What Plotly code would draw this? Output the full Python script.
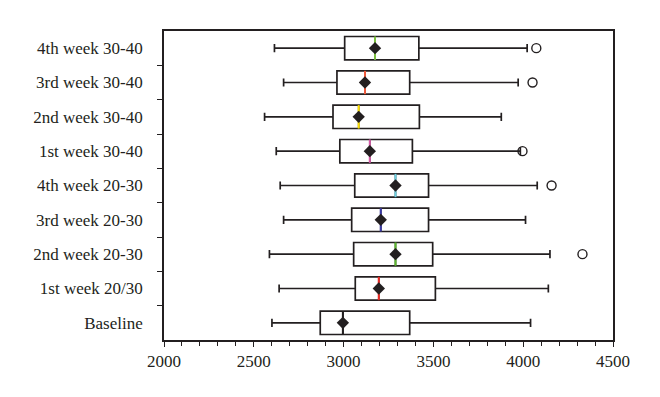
import plotly.graph_objects as go

categories = ["Baseline", "1st week 20/30", "2nd week 20-30", "3rd week 20-30", "4th week 20-30",
              "1st week 30-40", "2nd week 30-40", "3rd week 30-40", "4th week 30-40"]
lower_whisker = [2601, 2641, 2587, 2666, 2647, 2625, 2560, 2666, 2615]
q1_vals = [2870, 3065, 3056, 3045, 3062, 2979, 2941, 2963, 3006]
median_vals = [2996, 3196, 3289, 3207, 3289, 3146, 3084, 3119, 3175]
q3_vals = [3368, 3511, 3496, 3473, 3473, 3383, 3422, 3368, 3419]
upper_whisker = [4041, 4140, 4149, 4013, 4078, 3984, 3878, 3972, 4022]
mean_vals = [2996, 3196, 3289, 3207, 3289, 3146, 3084, 3119, 3175]
outlier_cat = ["2nd week 20-30", "4th week 20-30", "1st week 30-40", "3rd week 30-40", "4th week 30-40"]
outlier_vals = [4330, 4158, 3996, 4052, 4073]
median_colors = ["#231f20", "#ee2a24", "#5cb82e", "#3b3aa8", "#6ccfe0",
                 "#d65aa8", "#ffe100", "#f05a3c", "#7dc242"]
x_ticks = [2000, 2500, 3000, 3500, 4000, 4500]

pos = list(range(len(categories)))
cat_pos = {c: i for i, c in enumerate(categories)}
BOX_W = 0.68
INK = "#231f20"
FONT = "Liberation Serif"

fig = go.Figure()
fig.add_trace(go.Box(
    y=pos, q1=q1_vals, median=median_vals, q3=q3_vals,
    lowerfence=lower_whisker, upperfence=upper_whisker,
    orientation="h", width=BOX_W, whiskerwidth=0.35,
    fillcolor="rgba(255,255,255,0)", line=dict(color=INK, width=1.7),
    boxpoints=False, hoverinfo="skip", showlegend=False,
))

for i, (m, col) in enumerate(zip(median_vals, median_colors)):
    fig.add_trace(go.Scatter(
        x=[m, m], y=[i - BOX_W / 2, i + BOX_W / 2], mode="lines",
        line=dict(color=col, width=2), showlegend=False, hoverinfo="skip",
    ))

fig.add_trace(go.Scatter(
    x=mean_vals, y=pos, mode="markers",
    marker=dict(symbol="diamond", size=9.5, color=INK), showlegend=False,
))

fig.add_trace(go.Scatter(
    x=outlier_vals, y=[cat_pos[c] for c in outlier_cat], mode="markers",
    marker=dict(symbol="circle-open", size=9, color=INK, line=dict(width=1.4)),
    showlegend=False,
))

fig.update_layout(
    width=660, height=397,
    margin=dict(l=156, r=55, t=23, b=65),
    paper_bgcolor="white", plot_bgcolor="white",
    font=dict(family=FONT, size=17, color=INK),
)
fig.update_xaxes(
    range=[2000, 4500], tickvals=x_ticks, ticks="outside", ticklen=5, tickwidth=1.4,
    tickcolor=INK, showline=True, linecolor=INK, linewidth=1.7, mirror=True,
    showgrid=False, zeroline=False,
    minor=dict(dtick=100, ticks="outside", ticklen=4, tickwidth=1.2, tickcolor=INK, showgrid=False),
)
fig.update_yaxes(
    range=[-0.5, len(categories) - 0.5], tickvals=pos, ticktext=categories,
    ticks="", showline=True, linecolor=INK, linewidth=1.7, mirror=True,
    showgrid=False, zeroline=False, ticklabelstandoff=16,
    minor=dict(tickvals=[i + 0.5 for i in pos[:-1]], ticks="outside", ticklen=5,
               tickwidth=1.4, tickcolor=INK, showgrid=False),
)

fig.write_html("out.html")
